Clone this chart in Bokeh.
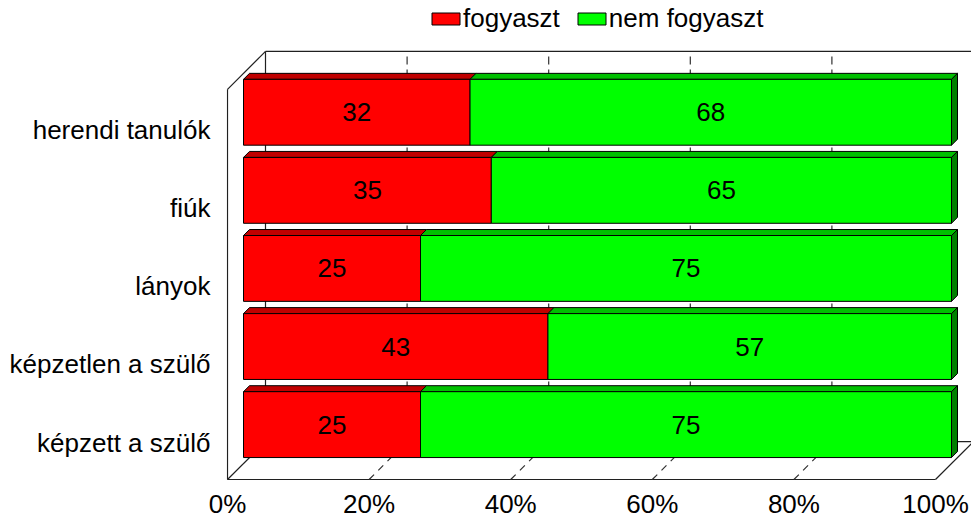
from bokeh.plotting import figure
from bokeh.models import Range1d, FixedTicker, Legend, LegendItem, ColumnDataSource
from bokeh.core.properties import value
from bokeh.embed import file_html
from bokeh.resources import INLINE

# ---------------- data ----------------
categories = ["herendi tanulók", "fiúk", "lányok", "képzetlen a szülő", "képzett a szülő"]
fogyaszt = [32, 35, 25, 43, 25]
nem_fogyaszt = [68, 65, 75, 57, 75]
series_names = ["fogyaszt", "nem fogyaszt"]
x_ticks = [0, 20, 40, 60, 80, 100]
x_tick_labels = ["0%", "20%", "40%", "60%", "80%", "100%"]

# ---------------- layout / style ----------------
W, H = 971, 521
BORDER_L, BORDER_B = 226, 40
FRAME_W = W - BORDER_L
FRAME_H = H - BORDER_B
SX = 7.08    # px per percent
SY = 78.25   # px per category step
FONT = "Liberation Sans"

WALL_DEPTH = 38   # px, 3D depth of floor/walls
WALL_HEIGHT = 391 # px
BAR_OFF = 16      # px, depth of bars' front face
BAR_DEPTH = 6     # px
BAR_HALF = 33     # px, half of bar height
BAR_SHIFT = 18    # px, bar centre above category position

def dx(px):
    return px / SX

def dy(px):
    return px / SY

n = len(categories)
ypos = [n - 1 - i for i in range(n)]
y_floor = -dy(37)
x_start = -dx(1)
x_end = x_start + FRAME_W / SX
y_start = y_floor - dy(1)
y_end = y_start + FRAME_H / SY

p = figure(width=W, height=H, output_backend="svg", toolbar_location=None,
           x_range=Range1d(x_start, x_end), y_range=Range1d(y_start, y_end),
           min_border_left=BORDER_L, min_border_right=0, min_border_top=0,
           min_border_bottom=BORDER_B)
p.outline_line_color = None
p.grid.visible = False
p.background_fill_color = "white"
p.border_fill_color = "white"

# ---------------- walls & floor ----------------
wall_col = "#202020"
x_max = x_ticks[-1]
DXW, DYW = dx(WALL_DEPTH), dy(WALL_DEPTH)
top_front = y_floor + dy(WALL_HEIGHT)
top_back = top_front + DYW
floor_back = y_floor + DYW

wall_xs = [
    [0, 0],                        # left wall front edge
    [0, DXW],                      # left wall top diagonal
    [DXW, x_max + DXW],            # back wall top edge
    [DXW, DXW],                    # back wall left edge
    [x_max + DXW, x_max + DXW],    # back wall right edge
    [DXW, x_max + DXW],            # floor back edge
    [0, DXW],                      # floor left diagonal
    [x_max, x_max + DXW],          # floor right diagonal
    [0, x_max],                    # floor front edge
]
wall_ys = [
    [y_floor, top_front],
    [top_front, top_back],
    [top_back, top_back],
    [floor_back, top_back],
    [floor_back, top_back],
    [floor_back, floor_back],
    [y_floor, floor_back],
    [y_floor, floor_back],
    [y_floor, y_floor],
]
p.multi_line(wall_xs, wall_ys, line_color=wall_col, line_width=1.2)

inner = x_ticks[1:-1]
p.multi_line([[t + DXW, t + DXW] for t in inner], [[floor_back, top_back] for _ in inner],
             line_color="#303030", line_width=1.2, line_dash="8 5")
p.multi_line([[t, t + DXW] for t in inner], [[y_floor, floor_back] for _ in inner],
             line_color="#303030", line_width=1.2, line_dash="7 6")

# ---------------- bars ----------------
front_cols = ["#FF0000", "#00FF00"]
top_cols = ["#C00000", "#00C000"]
side_cols = ["#800000", "#008000"]

series_vals = [fogyaszt, nem_fogyaszt]
renderers = []
starts = [0] * n
for s, vals in enumerate(series_vals):
    ends = [a + b for a, b in zip(starts, vals)]
    L = [a + dx(BAR_OFF) for a in starts]
    R = [b + dx(BAR_OFF) for b in ends]
    B = [y + dy(BAR_SHIFT - BAR_HALF) for y in ypos]
    T = [y + dy(BAR_SHIFT + BAR_HALF) for y in ypos]
    # top face
    p.patches([[l, r, r + dx(BAR_DEPTH), l + dx(BAR_DEPTH)] for l, r in zip(L, R)],
              [[t, t, t + dy(BAR_DEPTH), t + dy(BAR_DEPTH)] for t in T],
              fill_color=top_cols[s], line_color="black", line_width=1)
    # right side face (only visible for last series)
    if s == len(series_vals) - 1:
        p.patches([[r, r + dx(BAR_DEPTH), r + dx(BAR_DEPTH), r] for r in R],
                  [[b, b + dy(BAR_DEPTH), t + dy(BAR_DEPTH), t] for b, t in zip(B, T)],
                  fill_color=side_cols[s], line_color="black", line_width=1)
    src = ColumnDataSource(dict(left=L, right=R, bottom=B, top=T,
                                cx=[(l + r) / 2 for l, r in zip(L, R)],
                                cy=[y + dy(BAR_SHIFT) for y in ypos],
                                lab=[str(v) for v in vals]))
    r_front = p.quad(left="left", right="right", bottom="bottom", top="top", source=src,
                     fill_color=front_cols[s], line_color="black", line_width=1)
    renderers.append(r_front)
    p.text(x="cx", y="cy", text="lab", source=src, text_align="center",
           text_baseline="middle", text_font=value(FONT), text_font_size="26px",
           text_color="black")
    starts = ends

# ---------------- axes ----------------
for ax in (p.xaxis[0], p.yaxis[0]):
    ax.axis_line_color = None
    ax.major_tick_line_color = None
    ax.minor_tick_line_color = None
    ax.major_tick_out = 0
    ax.major_tick_in = 0
    ax.minor_tick_out = 0
    ax.minor_tick_in = 0
    ax.major_label_text_font = FONT
    ax.major_label_text_font_size = "26px"
    ax.major_label_text_color = "black"
    ax.major_label_text_line_height = 1.0

xa = p.xaxis[0]
xa.ticker = FixedTicker(ticks=x_ticks)
xa.major_label_overrides = {t: lab for t, lab in zip(x_ticks, x_tick_labels)}
xa.major_label_standoff = 8

ya = p.yaxis[0]
ya.ticker = FixedTicker(ticks=ypos)
ya.major_label_overrides = {y: c for y, c in zip(ypos, categories)}
ya.major_label_standoff = 16

# ---------------- legend ----------------
legend = Legend(items=[LegendItem(label=series_names[i], renderers=[renderers[i]]) for i in range(2)],
                orientation="horizontal", location=(202, 446),
                label_text_font=FONT, label_text_font_size="26px", label_text_color="black",
                label_text_line_height=1.0,
                glyph_width=35, glyph_height=15, label_standoff=0, spacing=14,
                padding=0, margin=0, border_line_color=None, background_fill_alpha=0)
p.add_layout(legend)

open("out.html", "w").write(file_html(p, INLINE))
